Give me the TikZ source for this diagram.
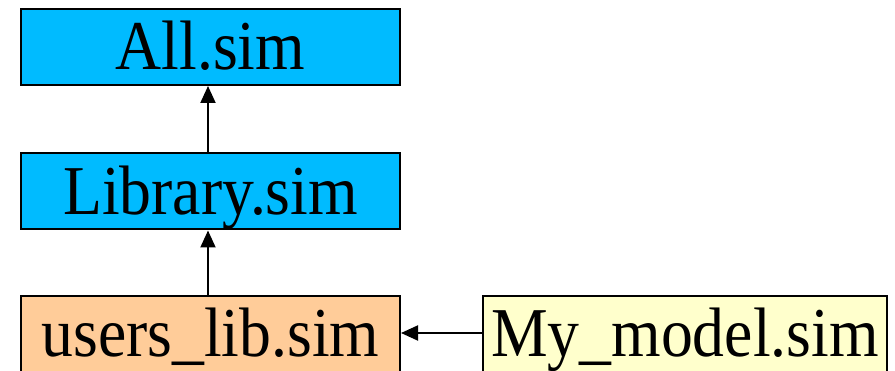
\documentclass[tikz,border=0pt]{standalone}
\usepackage{fontspec}
\setmainfont{Liberation Serif}[FakeStretch=0.91]
\usetikzlibrary{arrows.meta}
\definecolor{simblue}{RGB}{0,187,255}
\definecolor{simpeach}{RGB}{255,204,153}
\definecolor{simyellow}{RGB}{255,255,204}
\tikzset{
  simfile/.style={draw=black, line width=2pt, minimum height=76pt,
    inner sep=0pt, text height=46pt, text depth=0pt,
    font=\fontsize{70}{80}\selectfont},
  dep/.style={draw=black, line width=2pt, -{Triangle[length=17pt,width=15pt]}}
}
\begin{document}
\begin{tikzpicture}[x=1pt,y=1pt]
  \useasboundingbox (0,0) rectangle (895,-371);
  \node[simfile, fill=simblue, minimum width=379pt] (all) at (210.5,-47) {All.sim};
  \node[simfile, fill=simblue, minimum width=379pt] (lib) at (210.5,-191.5) {Library.sim};
  \node[simfile, fill=simpeach, minimum width=379pt] (users) at (210.5,-334) {users\_lib.sim};
  \node[simfile, fill=simyellow, minimum width=404pt] (model) at (685,-334) {My\_model.sim};
  \draw[dep] ([xshift=-2.5pt]lib.north) -- ([xshift=-2.5pt]all.south);
  \draw[dep] ([xshift=-2.5pt]users.north) -- ([xshift=-2.5pt]lib.south);
  \draw[dep] ([yshift=1pt]model.west) -- ([yshift=1pt]users.east);
\end{tikzpicture}
\end{document}
